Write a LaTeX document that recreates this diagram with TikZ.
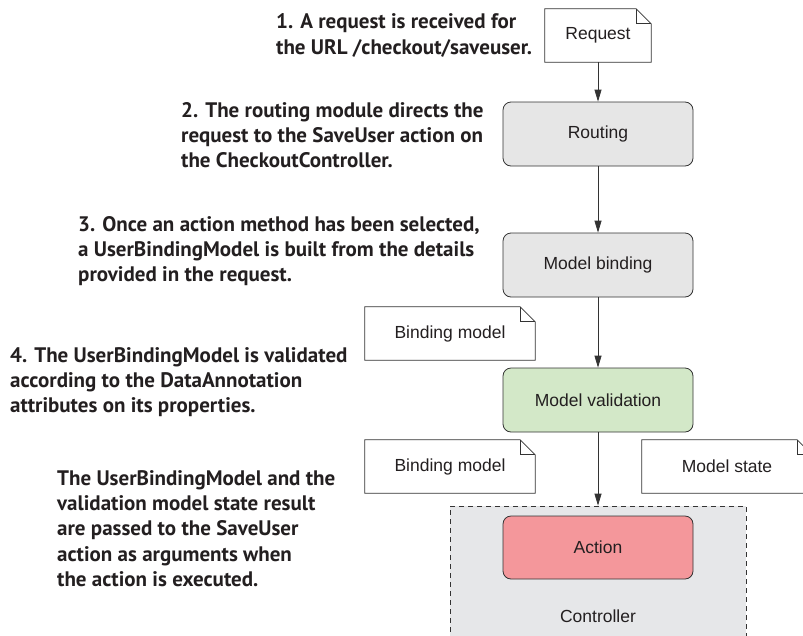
\documentclass[tikz,border=0pt]{standalone}
\usepackage{fontspec}
\setmainfont{Liberation Sans}
\newfontfamily\notefont{PT Sans}
\usetikzlibrary{arrows.meta}
\definecolor{ink}{HTML}{231F20}
\definecolor{edge}{HTML}{333333}
\definecolor{grayfill}{HTML}{E6E6E6}
\definecolor{greenfill}{HTML}{D3E8C8}
\definecolor{pinkfill}{HTML}{F4979B}
\definecolor{ctrlfill}{HTML}{E6E7E9}
\tikzset{
  stepbox/.style={draw=edge, line width=0.8pt, rounded corners=8pt, minimum width=190pt, minimum height=64pt, inner sep=0pt, font=\fontsize{17.5}{20}\selectfont, text=ink},
  docbox/.style={minimum height=53pt, inner sep=0pt, font=\fontsize{17.5}{20}\selectfont, text=ink},
  docline/.style={draw=edge, line width=0.8pt, fill=white},
  note/.style={anchor=west, inner sep=0pt, align=left, text=ink, font=\notefont\bfseries\fontsize{21}{25.3}\selectfont},
  flow/.style={draw=edge, line width=0.8pt, -{Triangle[length=12pt,width=7pt]}},
}
\begin{document}
\begin{tikzpicture}[x=1pt,y=-1pt]
\clip (0,0) rectangle (803,635);
\fill[white] (0,0) rectangle (803,635);
% controller container
\node[draw=edge, dashed, dash pattern=on 5pt off 4pt, line width=0.8pt, fill=ctrlfill, minimum width=296pt, minimum height=160pt, inner sep=0pt] (ctrl) at (598,586) {};
\node[font=\fontsize{17.5}{20}\selectfont, text=ink] (ctrllabel) at (598,616) {Controller};
% documents
\node[docbox, minimum width=106pt] (req) at (598,35.5) {};
\node[docbox, minimum width=170pt] (bm1) at (450,333.5) {};
\node[docbox, minimum width=170pt] (bm2) at (450,466.5) {};
\node[docbox, minimum width=170pt] (ms) at (727,466.5) {};
\foreach \n in {req,bm1,bm2,ms}{
  \draw[docline] (\n.south west) -- (\n.north west) -- ([xshift=-15pt]\n.north east) -- ([yshift=-15pt]\n.north east) -- (\n.south east) -- cycle;
  \draw[docline, fill=none] ([xshift=-15pt]\n.north east) |- ([yshift=-15pt]\n.north east);
}
\node[docbox] (reqt) at (req.center) {Request};
\node[docbox] (bm1t) at (bm1.center) {Binding model};
\node[docbox] (bm2t) at (bm2.center) {Binding model};
\node[docbox] (mst) at (ms.center) {Model state};
% steps
\node[stepbox, fill=grayfill] (rout) at (598,134) {Routing};
\node[stepbox, fill=grayfill] (mbind) at (598,265) {Model binding};
\node[stepbox, fill=greenfill] (mval) at (598,400) {Model validation};
\node[stepbox, fill=pinkfill, minimum height=63pt] (act) at (598,547.5) {Action};
% arrows
\draw[flow] (req.south) -- (rout.north);
\draw[flow] (rout.south) -- (mbind.north);
\draw[flow] (mbind.south) -- (mval.north);
\draw[flow] (mval.south) -- (ctrl.north);
% notes
\node[note] (n1) at (276,35.5) {1. A request is received for\\the URL /checkout/saveuser.};
\node[note] (n2) at (181,135) {2. The routing module directs the\\request to the SaveUser action on\\the CheckoutController.};
\node[note] (n3) at (78,251) {3. Once an action method has been selected,\\a UserBindingModel is built from the details\\provided in the request.};
\node[note] (n4) at (10,382) {4. The UserBindingModel is validated\\according to the DataAnnotation\\attributes on its properties.};
\node[note] (n5) at (57,528.5) {The UserBindingModel and the\\validation model state result\\are passed to the SaveUser\\action as arguments when\\the action is executed.};
\end{tikzpicture}
\end{document}
